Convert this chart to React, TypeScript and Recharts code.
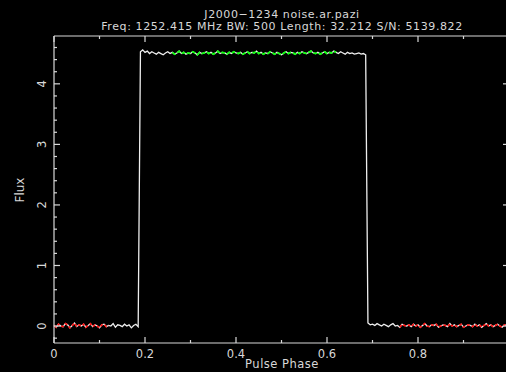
import { LineChart, Line, XAxis, YAxis } from "recharts";

// Pulse profile (pav-style), 200 phase bins of 0.005
const fluxLeft = [
  0.01, -0.02, 0.03, 0.0, -0.01, 0.04, 0.02, -0.03, 0.01, 0.05,
  -0.01, 0.02, 0.0, 0.03, -0.02, 0.01, 0.04, -0.01, 0.02, 0.0,
  -0.03, 0.02, 0.03, -0.01, 0.01, 0.0, 0.04, -0.02, 0.02, 0.01,
  -0.01, 0.03, 0.0, 0.02, -0.03, 0.01, 0.03, -0.01,
];
const fluxPulse = [
  4.53, 4.56, 4.52, 4.54, 4.5, 4.53, 4.51, 4.49, 4.52, 4.5,
  4.48, 4.51, 4.53, 4.5, 4.52, 4.49, 4.51, 4.54, 4.5, 4.52,
  4.49, 4.51, 4.5, 4.53, 4.51, 4.48, 4.52, 4.5, 4.51, 4.53,
  4.5, 4.52, 4.49, 4.51, 4.54, 4.5, 4.52, 4.51, 4.49, 4.52,
  4.5, 4.53, 4.51, 4.5, 4.52, 4.49, 4.51, 4.53, 4.5, 4.52,
  4.51, 4.54, 4.5, 4.52, 4.49, 4.51, 4.5, 4.53, 4.51, 4.49,
  4.52, 4.5, 4.48, 4.51, 4.53, 4.5, 4.52, 4.51, 4.49, 4.52,
  4.5, 4.53, 4.51, 4.5, 4.52, 4.54, 4.51, 4.5, 4.52, 4.49,
  4.51, 4.53, 4.5, 4.52, 4.51, 4.54, 4.52, 4.5, 4.53, 4.51,
  4.49, 4.52, 4.5, 4.51, 4.49, 4.5, 4.51, 4.49, 4.5, 4.48,
];
const fluxRight = [
  0.05, 0.02, 0.03, 0.01, 0.04, 0.02, 0.0, 0.03, 0.01, -0.01,
  0.02, 0.04, 0.0, 0.01, -0.02, 0.03, 0.01, 0.0, 0.02, -0.01,
  0.03, 0.0, 0.02, -0.02, 0.01, 0.04, 0.0, -0.01, 0.02, 0.01,
  0.03, -0.02, 0.0, 0.02, 0.01, -0.01, 0.04, 0.0, 0.02, -0.01,
  0.01, 0.03, -0.02, 0.0, 0.02, 0.01, -0.01, 0.03, 0.0, 0.02,
  -0.02, 0.01, 0.04, 0.0, 0.02, -0.01, 0.01, 0.03, 0.0, -0.02,
  0.02, 0.01,
];
const flux = [...fluxLeft, ...fluxPulse, ...fluxRight];

// off-pulse (baseline) and on-pulse windows
const baseWindows = [[0, 0.12], [0.76, 1]];
const onWindow = [0.26, 0.62];

const xTicks = [0, 0.1, 0.2, 0.3, 0.4, 0.5, 0.6, 0.7, 0.8, 0.9, 1];
const xLabels = ["0", "0.2", "0.4", "0.6", "0.8"];
const yTicks = [-0.2, 0, 0.2, 0.4, 0.6, 0.8, 1, 1.2, 1.4, 1.6, 1.8, 2, 2.2, 2.4, 2.6, 2.8, 3, 3.2, 3.4, 3.6, 3.8, 4, 4.2, 4.4, 4.6];

const data = flux.map((f, i) => {
  const p = i / 200;
  const inBase = baseWindows.some(([a, b]) => p >= a && p <= b);
  const inOn = p >= onWindow[0] && p <= onWindow[1];
  return { phase: p, flux: f, base: inBase ? f : null, on: inOn ? f : null };
});

const AX = "#d8d8d8";
const FONT = "'DejaVu Sans', sans-serif";

const XTick = (props: any) => {
  const { x, y, payload, side } = props;
  const major = Math.round(payload.value * 10) % 2 === 0;
  const len = major ? 6 : 3;
  const dir = side === "top" ? 1 : -1;
  const label = String(Math.round(payload.value * 10) / 10);
  return (
    <g>
      <line x1={x} y1={y} x2={x} y2={y + dir * len} stroke={AX} strokeWidth={1.2} />
      {side === "bottom" && xLabels.includes(label) && (
        <text x={x} y={y + 15} fill={AX} fontSize={11.5} fontFamily={FONT} textAnchor="middle">
          {label}
        </text>
      )}
    </g>
  );
};

const YTick = (props: any) => {
  const { x, y, payload, side } = props;
  const major = Math.round(payload.value * 5) % 5 === 0;
  const len = major ? 6 : 3;
  const dir = side === "left" ? 1 : -1;
  const v = Math.round(payload.value);
  return (
    <g>
      <line x1={x} y1={y} x2={x + dir * len} y2={y} stroke={AX} strokeWidth={1.2} />
      {side === "left" && major && v >= 0 && (
        <text
          x={x - 12}
          y={y}
          fill={AX}
          fontSize={11.5}
          fontFamily={FONT}
          textAnchor="middle"
          dominantBaseline="central"
          transform={`rotate(-90 ${x - 12} ${y})`}
        >
          {String(v)}
        </text>
      )}
    </g>
  );
};

export default function App() {
  return (
    <div style={{ position: "absolute", left: 0, top: 0, width: 506, height: 372, background: "#000", overflow: "hidden", fontFamily: FONT }}>
      <LineChart width={512} height={372} data={data} margin={{ top: 0, right: 0, bottom: 0, left: 0 }}>
        <XAxis xAxisId="b" dataKey="phase" type="number" domain={[0, 1]} ticks={xTicks} interval={0}
          orientation="bottom" height={29} tickSize={0} tickMargin={0} stroke={AX} strokeWidth={1.2}
          tick={<XTick side="bottom" />} />
        <XAxis xAxisId="t" dataKey="phase" type="number" domain={[0, 1]} ticks={xTicks} interval={0}
          orientation="top" height={36} tickSize={0} tickMargin={0} stroke={AX} strokeWidth={1.2}
          tick={<XTick side="top" />} />
        <YAxis yAxisId="l" type="number" domain={[-0.28, 4.79]} ticks={yTicks} interval={0}
          orientation="left" width={54} tickSize={0} tickMargin={0} stroke={AX} strokeWidth={1.2}
          tick={<YTick side="left" />} />
        <YAxis yAxisId="r" type="number" domain={[-0.28, 4.79]} ticks={yTicks} interval={0}
          orientation="right" width={3} tickSize={0} tickMargin={0} stroke={AX} strokeWidth={1.2}
          tick={<YTick side="right" />} />
        <Line xAxisId="b" yAxisId="l" type="linear" dataKey="flux" stroke="#eeeeee" strokeWidth={1.3}
          dot={false} isAnimationActive={false} />
        <Line xAxisId="t" yAxisId="r" type="linear" dataKey="base" stroke="#ff1010" strokeWidth={1.6}
          strokeDasharray="3 2" dot={false} connectNulls={false} isAnimationActive={false} />
        <Line xAxisId="t" yAxisId="r" type="linear" dataKey="on" stroke="#10ff10" strokeWidth={1.8}
          strokeDasharray="4 2" dot={false} connectNulls={false} isAnimationActive={false} />
      </LineChart>
      <div style={{ position: "absolute", left: 0, width: 564, top: 9, textAlign: "center", color: AX, fontSize: 11, lineHeight: "12px", letterSpacing: 0.6 }}>
        J2000−1234 noise.ar.pazi
        <br />
        Freq: 1252.415 MHz BW: 500 Length: 32.212 S/N: 5139.822
      </div>
      <div style={{ position: "absolute", left: 0, width: 564, top: 358, textAlign: "center", color: AX, fontSize: 11.5, lineHeight: "13px", letterSpacing: 0.5 }}>
        Pulse Phase
      </div>
      <div style={{ position: "absolute", left: 12, top: 190, color: AX, fontSize: 12, transform: "translate(-50%, -50%) rotate(-90deg)", transformOrigin: "center", marginLeft: 8 }}>
        Flux
      </div>
    </div>
  );
}
